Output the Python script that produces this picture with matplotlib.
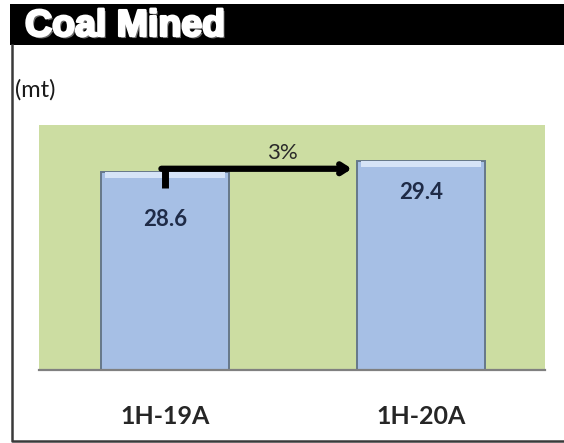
import matplotlib.pyplot as plt
import matplotlib.patheffects as pe
from matplotlib.patches import Rectangle
from matplotlib.lines import Line2D

periods = ["1H-19A", "1H-20A"]
coal_mt = [28.6, 29.4]
growth_label = "3%"

# label offsets below the bar top, in points (first one pushed down by the arrow)
label_drop = [-34, -23]

fig = plt.figure(figsize=(5.64, 4.43), dpi=100)
fig.patch.set_facecolor("white")

# black header band with the title
fig.patches.append(Rectangle((10 / 564, 1 - 45 / 443), 1 - 10 / 564, 41 / 443,
                             transform=fig.transFigure, facecolor="black",
                             edgecolor="none", zorder=0))
fig.text(25 / 564, 1 - 26 / 443, "Coal Mined", color="white", fontsize=27,
         fontweight="heavy", family="Liberation Sans", va="center", ha="left",
         path_effects=[pe.withSimplePatchShadow(offset=(1.5, -1.5), shadow_rgbFace="#777777", alpha=0.9),
                       pe.withStroke(linewidth=1.8, foreground="white")])

# frame around the panel
fig.lines.append(Line2D([12 / 564, 12 / 564, 1], [1 - 45 / 443, 1 - 441 / 443, 1 - 441 / 443],
                        transform=fig.transFigure, color="#3a3a3a", lw=1.8))

fig.text(15 / 564, 1 - 90 / 443, "(mt)", fontsize=17, family="Lato",
         color="#1a1a1a", va="center", ha="left")

ax = fig.add_axes([39 / 564, 73 / 443, 506 / 564, 245 / 443])
ax.set_facecolor("#CCDDA2")
for side in ["top", "right", "left"]:
    ax.spines[side].set_visible(False)
ax.spines["bottom"].set_color("#808080")
ax.spines["bottom"].set_linewidth(1.6)

x = list(range(len(periods)))
ymin, ymax = 14.2, 32.0
ax.bar(x, [v - ymin for v in coal_mt], bottom=ymin, width=0.5, color="#A6BFE5",
       edgecolor="#66788A", linewidth=1.4, zorder=2)
# light bevel along each bar top
ax.bar(x, [0.45] * len(x), bottom=[v - 0.45 for v in coal_mt], width=0.47,
       color="#D6E4F7", edgecolor="none", zorder=3)

for xi, v, dy in zip(x, coal_mt, label_drop):
    ax.annotate(f"{v:.1f}", (xi, v), xytext=(0, dy), textcoords="offset points",
                ha="center", va="center", fontsize=16, fontweight="bold",
                family="Lato", color="#1F2B47", zorder=5)

# growth arrow from the first bar towards the second
y_arrow = coal_mt[0] + 0.22
ax.plot([x[0], x[0]], [coal_mt[0] - 1.2, y_arrow], color="black", lw=5,
        solid_capstyle="butt", zorder=4)
ax.annotate("", xy=(x[1] - 0.27, y_arrow), xytext=(x[0] - 0.014, y_arrow),
            arrowprops=dict(arrowstyle="->,head_length=0.5,head_width=0.32",
                            color="black", lw=4.5, shrinkA=0, shrinkB=0), zorder=4)
ax.annotate(growth_label, ((x[0] + x[1]) / 2 - 0.04, y_arrow), xytext=(0, 11),
            textcoords="offset points", ha="center", va="center", fontsize=16,
            family="Lato", color="#2a2a2a", zorder=5)

ax.set_xlim(-0.492, 1.484)
ax.set_ylim(ymin, ymax)
ax.set_yticks([])
ax.set_xticks(x)
ax.set_xticklabels(periods, fontsize=18, fontweight="bold", family="Lato", color="#262626")
ax.tick_params(axis="x", length=0, pad=25)

fig.savefig("out.png", dpi=100)
